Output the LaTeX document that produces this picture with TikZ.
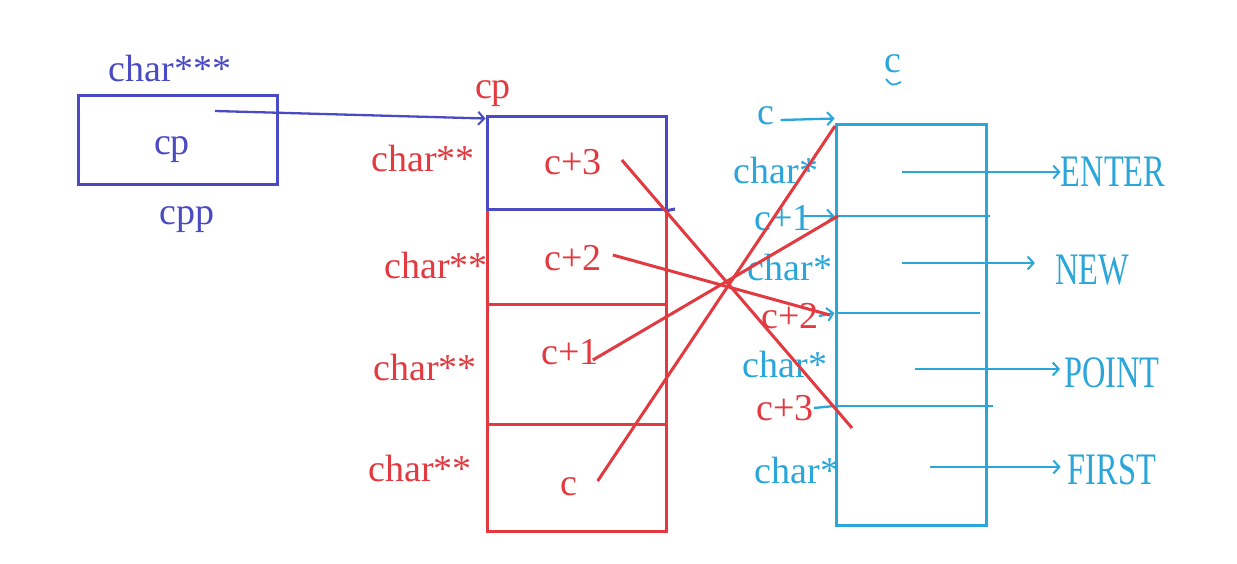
\documentclass[tikz,border=0pt]{standalone}
\usepackage{fontspec}
\setmainfont{Liberation Serif}
\usetikzlibrary{arrows.meta}
\definecolor{cblue}{HTML}{4A4AC4}
\definecolor{cred}{HTML}{E23A40}
\definecolor{ccyan}{HTML}{2BA6DA}
\begin{document}
\begin{tikzpicture}[x=1pt,y=-1pt,
  lbl/.style={inner sep=0pt, font=\fontsize{38}{40}\selectfont},
  caps/.style={inner sep=0pt, font=\fontsize{45}{48}\selectfont, text=ccyan},
  box/.style={draw, line width=3pt, inner sep=0pt, fill=none},
  redline/.style={draw=cred, line width=3pt},
  cyanline/.style={draw=ccyan, line width=2.3pt},
  barb/.style={-{Straight Barb[length=6pt,width=13pt,line width=2pt]}}]
\fill[white] (0,0) rectangle (1237,563);
\useasboundingbox (0,0) rectangle (1237,563);

% ---- cpp box (blue)
\node[box, draw=cblue, minimum width=199pt, minimum height=89pt] (cppbox) at (177.5,139.5) {};
\node[lbl, text=cblue] (cptext) at (172,150) {cp};
\node[lbl, text=cblue] (cpptype) at (170,68) {char***};
\node[lbl, text=cblue] (cppname) at (187,220) {cpp};

% ---- red array
\node[box, draw=cred, minimum width=179pt, minimum height=415pt] (arr) at (576.5,323.5) {};
\draw[redline] (arr.west |- 0,304) -- (arr.east |- 0,304);
\draw[redline] (arr.west |- 0,424) -- (arr.east |- 0,424);
\node[box, draw=cblue, minimum width=179pt, minimum height=93pt] (topcell) at (576.5,162.5) {};
\coordinate (topext) at (675,209);
\draw[cblue, line width=3pt] (topcell.south east) -- (topext);
\node[lbl, text=cred] (cpred) at (493,94) {cp};
\node[lbl, text=cred] (t1) at (423,158) {char**};
\node[lbl, text=cred] (t2) at (436,265) {char**};
\node[lbl, text=cred] (t3) at (425,367) {char**};
\node[lbl, text=cred] (t4) at (420,468) {char**};
\node[lbl, text=cred] (v3) at (573,162) {c+3};
\node[lbl, text=cred] (v2) at (573,258) {c+2};
\node[lbl, text=cred] (v1) at (570,352) {c+1};
\node[lbl, text=cred] (v0) at (569,487) {c};

% blue pointer cpp -> array
\coordinate (cpstart) at (215,111);
\draw[cblue, line width=2.3pt, barb] (cpstart) -- ([yshift=-4pt]arr.north west);

% ---- cyan array
\node[box, draw=ccyan, minimum width=150pt, minimum height=401pt] (carr) at (911,324.5) {};
\coordinate (d1r) at (990,216);
\coordinate (d2r) at (980,313);
\coordinate (d3r) at (993,406);
\draw[cyanline] (carr.west |- d1r) -- (d1r);
\draw[cyanline] (carr.west |- d2r) -- (d2r);
\draw[cyanline] (carr.west |- d3r) -- (d3r);
\node[lbl, text=ccyan] (ctitle) at (893,64) {c};
\draw[ccyan, line width=1.8pt] (886,79) .. controls (892,86) .. (901,82);

\node[lbl, text=ccyan] (lc) at (766,116) {c};
\node[lbl, text=ccyan] (s1) at (776,170) {char*};
\node[lbl, text=ccyan] (lc1) at (783,218) {c+1};
\node[lbl, text=ccyan] (s2) at (790,267) {char*};
\node[lbl, text=cred] (lc2) at (790,316) {c+2};
\node[lbl, text=ccyan] (s3) at (785,364) {char*};
\node[lbl, text=cred] (lc3) at (785,408) {c+3};
\node[lbl, text=ccyan] (s4) at (797,470) {char*};

\draw[cyanline, barb] (lc.east) ++(6,4) -- ([yshift=4pt]carr.north west);
\coordinate (c1a) at (802,216);
\draw[cyanline, barb] (c1a) -- (carr.west |- d1r);
\draw[cyanline, barb] (lc2.east) -- (carr.west |- d2r);
\draw[cyanline] (lc3.east) -- (carr.west |- d3r);

% ---- red crossing pointers
\coordinate (e3) at (852,428);
\coordinate (e2) at (830,315);
\coordinate (e1) at (838,216);
\coordinate (e0) at (835,126);
\draw[redline] ([xshift=20pt,yshift=2pt]v3.east) -- (e3);
\draw[redline] ([xshift=11pt,yshift=3pt]v2.east) -- (e2);
\draw[redline] ([xshift=-6pt,yshift=-8pt]v1.east) -- (e1);
\draw[redline] ([xshift=20pt,yshift=6pt]v0.east) -- (e0);

% ---- strings
\node[caps] (enter) at (1113,172) {\scalebox{0.72}[1]{ENTER}};
\node[caps] (new)   at (1092,270) {\scalebox{0.72}[1]{NEW}};
\node[caps] (point) at (1112,373) {\scalebox{0.72}[1]{POINT}};
\node[caps] (first) at (1112,470) {\scalebox{0.72}[1]{FIRST}};
\coordinate (p1) at (902,172);
\coordinate (p2) at (902,263);
\coordinate (p3) at (915,369);
\coordinate (p4) at (930,467);
\draw[cyanline, barb] (p1) -- (enter.west);
\draw[cyanline, barb, shorten >=20pt] (p2) -- (p2 -| new.west);
\draw[cyanline, barb, shorten >=4pt] (p3) -- (p3 -| point.west);
\draw[cyanline, barb, shorten >=7pt] (p4) -- (p4 -| first.west);
\end{tikzpicture}
\end{document}
